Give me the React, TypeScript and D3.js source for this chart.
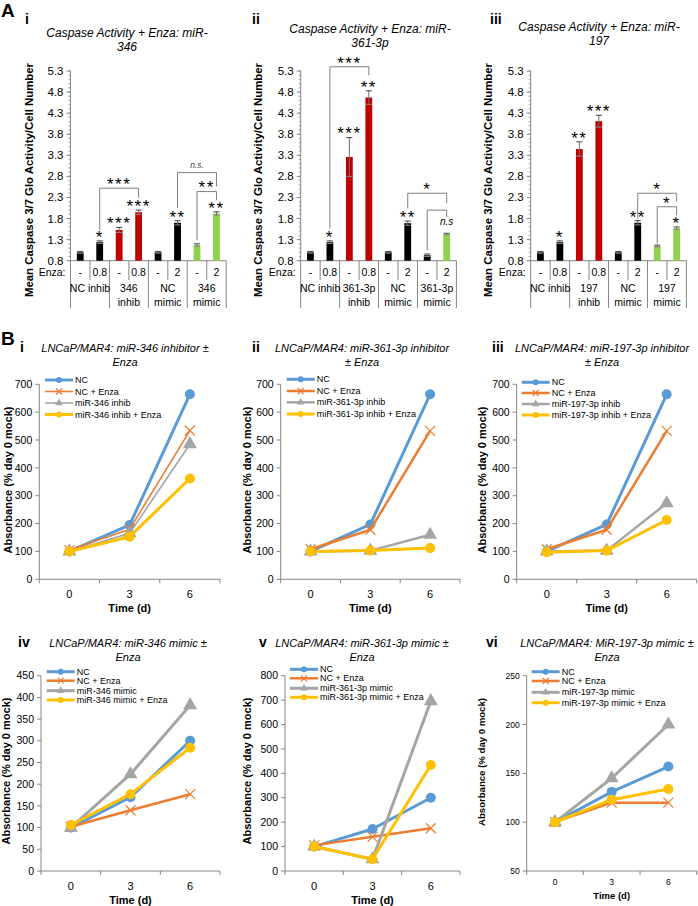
import React from 'react';
import * as d3 from 'd3';

const FONT = '"Liberation Sans", Arial, sans-serif';

// ---------- Panel A data ----------
const enzaLabels = ['-', '0.8', '-', '0.8', '-', '2', '-', '2'];
const caspaseTicks = [0.8, 1.3, 1.8, 2.3, 2.8, 3.3, 3.8, 4.3, 4.8, 5.3];

const groupsAi = [['NC inhib'], ['346', 'inhib'], ['NC', 'mimic'], ['346', 'mimic']];
const groupsAii = [['NC inhib'], ['361-3p', 'inhib'], ['NC', 'mimic'], ['361-3p', 'mimic']];
const groupsAiii = [['NC inhib'], ['197', 'inhib'], ['NC', 'mimic'], ['197', 'mimic']];

const caspaseAi = [1.0, 1.24, 1.53, 1.95, 1.0, 1.70, 1.17, 1.92];
const caspaseAii = [1.0, 1.24, 3.26, 4.67, 1.0, 1.69, 0.93, 1.43];
const caspaseAiii = [1.0, 1.24, 3.45, 4.11, 1.0, 1.70, 1.15, 1.57];

const errAi = [0.02, 0.03, 0.06, 0.05, 0.02, 0.05, 0.03, 0.04];
const errAii = [0.02, 0.03, 0.46, 0.16, 0.02, 0.05, 0.03, 0.02];
const errAiii = [0.02, 0.03, 0.17, 0.14, 0.02, 0.05, 0.02, 0.03];

const colorsAi = ['k', 'k', 'r', 'r', 'k', 'k', 'g', 'g'];
const colorsAii = ['k', 'k', 'r', 'r', 'k', 'k', 'k', 'g'];
const colorsAiii = ['k', 'k', 'r', 'r', 'k', 'k', 'g', 'g'];

const starsAi = ['', '*', '***', '***', '', '**', '', '**'];
const starsAii = ['', '*', '***', '**', '', '**', '', 'n.s'];
const starsAiii = ['', '*', '**', '***', '', '**', '', '*'];

const bracketsAi = [
  { from: 1, to: 3, top: 2.52, lb: 1.53, rb: 2.29, label: '***' },
  { from: 5, to: 7, top: 2.89, lb: 2.05, rb: 2.56, label: 'n.s.' },
  { from: 6, to: 7, top: 2.44, lb: 1.29, rb: 2.24, label: '**' },
];
const bracketsAii = [
  { from: 1, to: 3, top: 5.40, lb: 1.57, rb: 5.20, label: '***' },
  { from: 5, to: 7, top: 2.40, lb: 2.04, rb: 2.16, label: '*' },
  { from: 6, to: 7, top: 2.0, lb: 1.05, rb: 1.84, label: '' },
];
const bracketsAiii = [
  { from: 5, to: 7, top: 2.40, lb: 1.80, rb: 2.20, label: '*' },
  { from: 6, to: 7, top: 2.08, lb: 1.21, rb: 1.88, label: '*' },
];

// ---------- Panel B data ----------
const days = ['0', '3', '6'];
const seriesColors = ['#5B9BD5', '#ED7D31', '#A5A5A5', '#FFC000'];
const seriesMarkers = ['circle', 'x', 'triangle', 'circle'];

const legendBi = ['NC', 'NC + Enza', 'miR-346 inhib', 'miR-346 inhib + Enza'];
const legendBii = ['NC', 'NC + Enza', 'miR-361-3p inhib', 'miR-361-3p inhib + Enza'];
const legendBiii = ['NC', 'NC + Enza', 'miR-197-3p inhib', 'miR-197-3p inhib + Enza'];
const legendBiv = ['NC', 'NC + Enza', 'miR-346 mimic', 'miR-346 mimic + Enza'];
const legendBv = ['NC', 'NC + Enza', 'miR-361-3p mimic', 'miR-361-3p mimic + Enza'];
const legendBvi = ['NC', 'NC + Enza', 'miR-197-3p mimic', 'miR-197-3p mimic + Enza'];

const bi_NC = [100, 195, 664];
const bi_NCE = [105, 180, 534];
const bi_miR = [100, 165, 485];
const bi_miRE = [100, 153, 362];

const bii_NC = [100, 197, 664];
const bii_NCE = [108, 178, 533];
const bii_miR = [100, 103, 160];
const bii_miRE = [100, 103, 112];

const biii_NC = [100, 197, 664];
const biii_NCE = [108, 178, 533];
const biii_miR = [100, 103, 273];
const biii_miRE = [97, 103, 213];

const biv_NC = [100, 170, 300];
const biv_NCE = [102, 140, 177];
const biv_miR = [100, 223, 382];
const biv_miRE = [106, 177, 284];

const bv_NC = [100, 172, 300];
const bv_NCE = [105, 140, 175];
const bv_miR = [100, 48, 696];
const bv_miRE = [100, 48, 434];

const bvi_NC = [100, 131, 157];
const bvi_NCE = [100, 120, 120];
const bvi_miR = [100, 145, 200];
const bvi_miRE = [100, 123, 134];

const ticksB1 = [0, 100, 200, 300, 400, 500, 600, 700];
const ticksBiv = [0, 50, 100, 150, 200, 250, 300, 350, 400, 450];
const ticksBv = [0, 100, 200, 300, 400, 500, 600, 700, 800];
const ticksBvi = [50, 100, 150, 200, 250];

const BAR_COLORS: Record<string, string> = { k: '#000000', r: '#C00000', g: '#92D050' };
const AXIS = '#868686';
const STAR_FS = 17;

function Stars({ x, cy, text }: any) {
  return (
    <text x={x} y={cy + STAR_FS * 0.55} textAnchor="middle" fontFamily={FONT} fontSize={STAR_FS} letterSpacing={1.5}>{text}</text>
  );
}

function BarPanel(p: any) {
  const x0 = p.x0;
  const w = 155.7;
  const y = d3.scaleLinear().domain([0.8, 5.3]).range([260.7, 71]);
  const x = d3.scaleBand<number>().domain(d3.range(8)).range([x0, x0 + w]);
  const bw = x.bandwidth();
  const barW = bw * 0.35;
  const cx = (i: number) => (x(i) as number) + bw / 2;
  const minor = d3.range(46).map((i) => 0.8 + i * 0.1);
  const base = y(0.8);
  const fmt = d3.format('.1f');
  return (
    <g>
      <text x={p.numX} y={24} fontFamily={FONT} fontWeight="bold" fontSize={14}>{p.numeral}</text>
      {p.title.map((t: string, i: number) => (
        <text key={i} x={p.titleX} y={p.titleY + i * 14} textAnchor="middle" fontFamily={FONT} fontStyle="italic" fontSize={12}>{t}</text>
      ))}
      <text transform={`translate(${p.ylabX},180) rotate(-90)`} textAnchor="middle" dominantBaseline="central" fontFamily={FONT} fontWeight="bold" fontSize={11} textLength={234} lengthAdjust="spacingAndGlyphs">Mean Caspase 3/7 Glo Activity/Cell Number</text>
      {/* y axis */}
      <line x1={x0} x2={x0} y1={y(5.3)} y2={308} stroke={AXIS} />
      {minor.map((v, i) => (
        <line key={'m' + i} x1={x0 - 2} x2={x0} y1={y(v)} y2={y(v)} stroke={AXIS} strokeWidth={0.8} />
      ))}
      {caspaseTicks.map((v) => (
        <g key={v}>
          <line x1={x0 - 4} x2={x0} y1={y(v)} y2={y(v)} stroke={AXIS} />
          <text x={x0 - 7} y={y(v)} dy="0.35em" textAnchor="end" fontFamily={FONT} fontSize={11.5}>{fmt(v)}</text>
        </g>
      ))}
      <line x1={x0} x2={x0 + w} y1={base} y2={base} stroke={AXIS} />
      {/* category table */}
      <text x={x0 - 5} y={276} textAnchor="end" fontFamily={FONT} fontSize={10.5}>Enza:</text>
      {enzaLabels.map((t, i) => (
        <text key={'e' + i} x={cx(i)} y={276} textAnchor="middle" fontFamily={FONT} fontSize={10.5}>{t}</text>
      ))}
      {d3.range(1, 9).map((i) => {
        const xx = x0 + i * bw;
        const long = i % 2 === 0;
        return <line key={'d' + i} x1={xx} x2={xx} y1={base} y2={long ? 308 : 280} stroke={AXIS} />;
      })}
      {p.groups.map((lines: string[], gi: number) => (
        <g key={'g' + gi}>
          {lines.map((t, li) => (
            <text key={li} x={x0 + (gi * 2 + 1) * bw} y={292 + li * 13.5} textAnchor="middle" fontFamily={FONT} fontSize={10.5}>{t}</text>
          ))}
        </g>
      ))}
      {/* bars */}
      {p.values.map((v: number, i: number) => {
        const e = p.errs[i];
        const c = cx(i);
        return (
          <g key={'b' + i}>
            <rect x={c - barW / 2} y={y(v)} width={barW} height={base - y(v)} fill={BAR_COLORS[p.colors[i]]} />
            <line x1={c} x2={c} y1={y(v - e)} y2={y(v + e)} stroke="#6d6d6d" strokeWidth={1} />
            <line x1={c - 3} x2={c + 3} y1={y(v + e)} y2={y(v + e)} stroke="#404040" strokeWidth={1} />
            <line x1={c - 3} x2={c + 3} y1={y(v - e)} y2={y(v - e)} stroke="#8a8a8a" strokeWidth={1} />
            {p.stars[i] === 'n.s' ? (
              <text x={c} y={y(v + e) - 8} textAnchor="middle" fontFamily={FONT} fontStyle="italic" fontSize={10}>n.s</text>
            ) : p.stars[i] ? (
              <Stars x={c} cy={y(v + e) - 7.5} text={p.stars[i]} />
            ) : null}
          </g>
        );
      })}
      {p.brackets.map((b: any, i: number) => {
        const xl = cx(b.from);
        const xr = cx(b.to);
        const yt = y(b.top);
        return (
          <g key={'br' + i}>
            <path d={`M${xl},${y(b.lb)}V${yt}H${xr}V${y(b.rb)}`} fill="none" stroke="#7f7f7f" strokeWidth={1} />
            {b.label === 'n.s.' ? (
              <text x={(xl + xr) / 2} y={yt - 5} textAnchor="middle" fontFamily={FONT} fontStyle="italic" fontSize={8.5} fill="#404040">n.s.</text>
            ) : b.label ? (
              <Stars x={(xl + xr) / 2} cy={yt - 7.5} text={b.label} />
            ) : null}
          </g>
        );
      })}
    </g>
  );
}

function Marker({ type, x, y, color, s }: any) {
  if (type === 'circle') return <circle cx={x} cy={y} r={s} fill={color} />;
  if (type === 'x')
    return (
      <path d={`M${x - s},${y - s}L${x + s},${y + s}M${x - s},${y + s}L${x + s},${y - s}`} stroke={color} strokeWidth={1.2} fill="none" />
    );
  const sym = d3.symbol(d3.symbolTriangle, s * s * 2.8)();
  return <path d={sym as string} transform={`translate(${x},${y})`} fill={color} />;
}

function LinePanel(p: any) {
  const x = d3.scaleBand().domain(days).range([p.x0, p.x1]);
  const y = d3.scaleLinear().domain(p.domain).range([p.yBottom, p.yTop]);
  const cx = (d: string) => (x(d) as number) + x.bandwidth() / 2;
  const line = d3
    .line<number>()
    .x((_, i) => cx(days[i]))
    .y((v) => y(v));
  const tf = p.tickFont || 10.5;
  return (
    <g>
      <text x={p.numX} y={p.numY} fontFamily={FONT} fontWeight="bold" fontSize={14}>{p.numeral}</text>
      {p.title.map((t: string, i: number) => (
        <text key={i} x={p.titleX} y={p.titleY + i * 14} textAnchor="middle" fontFamily={FONT} fontStyle="italic" fontSize={11}>{t}</text>
      ))}
      <text transform={`translate(${p.ylabX},${p.ylabY}) rotate(-90)`} textAnchor="middle" dominantBaseline="central" fontFamily={FONT} fontWeight="bold" fontSize={p.ylabFont || 10.5} textLength={p.ylabLen || 147} lengthAdjust="spacingAndGlyphs">Absorbance (% day 0 mock)</text>
      <line x1={p.x0} x2={p.x0} y1={p.yTop} y2={p.yBottom} stroke={AXIS} />
      <line x1={p.x0} x2={p.x1} y1={p.yBottom} y2={p.yBottom} stroke={AXIS} />
      {p.ticks.map((v: number) => (
        <g key={v}>
          <line x1={p.x0 - 4} x2={p.x0} y1={y(v)} y2={y(v)} stroke={AXIS} />
          <text x={p.x0 - 7} y={y(v)} dy="0.35em" textAnchor="end" fontFamily={FONT} fontSize={tf}>{v}</text>
        </g>
      ))}
      {d3.range(4).map((i) => {
        const xx = p.x0 + i * x.bandwidth();
        return <line key={'t' + i} x1={xx} x2={xx} y1={p.yBottom} y2={p.yBottom + 4} stroke={AXIS} />;
      })}
      {days.map((d) => (
        <text key={d} x={cx(d)} y={p.xlabY} textAnchor="middle" fontFamily={FONT} fontSize={p.xFont || 11}>{d}</text>
      ))}
      <text x={(p.x0 + p.x1) / 2} y={p.timeY} textAnchor="middle" fontFamily={FONT} fontWeight="bold" fontSize={p.timeFont || 11}>Time (d)</text>
      {p.series.map((s: number[], si: number) => (
        <g key={'s' + si}>
          <path d={line(s) as string} fill="none" stroke={seriesColors[si]} strokeWidth={p.widths[si]} strokeLinejoin="round" />
          {s.map((v, i) => (
            <Marker key={i} type={seriesMarkers[si]} x={cx(days[i])} y={y(v)} color={seriesColors[si]} s={si === 1 ? 5 : si === 2 ? 5.5 : 5} />
          ))}
        </g>
      ))}
      {p.legend.map((t: string, i: number) => {
        const ly = p.legY[i];
        return (
          <g key={'l' + i}>
            <line x1={p.legX} x2={p.legX + 28} y1={ly} y2={ly} stroke={seriesColors[i]} strokeWidth={p.widths[i]} />
            <Marker type={seriesMarkers[i]} x={p.legX + 14} y={ly} color={seriesColors[i]} s={3} />
            <text x={p.legX + 30} y={ly} dy="0.35em" fontFamily={FONT} fontSize={p.legFont || 9}>{t}</text>
          </g>
        );
      })}
    </g>
  );
}

export default function App() {
  return (
    <svg width={698} height={906} style={{ position: 'absolute', left: 0, top: 0, background: '#fff' }}>
      <rect width={698} height={906} fill="#fff" />
      <text x={1} y={17} fontFamily={FONT} fontWeight="bold" fontSize={19}>A</text>
      <text x={1} y={345} fontFamily={FONT} fontWeight="bold" fontSize={19}>B</text>

      <BarPanel x0={70.5} numeral="i" numX={25} title={['Caspase Activity + Enza: miR-', '346']} titleX={127} titleY={37} ylabX={29}
        groups={groupsAi} values={caspaseAi} errs={errAi} colors={colorsAi} stars={starsAi} brackets={bracketsAi} />
      <BarPanel x0={300.7} numeral="ii" numX={252} title={['Caspase Activity + Enza: miR-', '361-3p']} titleX={370} titleY={33} ylabX={258}
        groups={groupsAii} values={caspaseAii} errs={errAii} colors={colorsAii} stars={starsAii} brackets={bracketsAii} />
      <BarPanel x0={530.7} numeral="iii" numX={490} title={['Caspase Activity + Enza: miR-', '197']} titleX={599} titleY={31} ylabX={488}
        groups={groupsAiii} values={caspaseAiii} errs={errAiii} colors={colorsAiii} stars={starsAiii} brackets={bracketsAiii} />

      <LinePanel x0={39.3} x1={220} yTop={384.3} yBottom={579.3} domain={[0, 700]} ticks={ticksB1}
        numeral="i" numX={20} numY={352} title={['LNCaP/MAR4: miR-346 inhibitor ±', 'Enza']} titleX={125} titleY={352}
        ylabX={8} ylabY={480} xlabY={598} timeY={612}
        series={[bi_NC, bi_NCE, bi_miR, bi_miRE]} widths={[3, 1.6, 1.6, 3]}
        legend={legendBi} legX={45} legY={[380, 391.5, 403, 414.5]} />
      <LinePanel x0={280.7} x1={460} yTop={384.3} yBottom={579.3} domain={[0, 700]} ticks={ticksB1}
        numeral="ii" numX={252} numY={352} title={['LNCaP/MAR4: miR-361-3p inhibitor', '± Enza']} titleX={362} titleY={352}
        ylabX={246.7} ylabY={480} xlabY={598} timeY={612}
        series={[bii_NC, bii_NCE, bii_miR, bii_miRE]} widths={[3, 2.5, 2.5, 3]}
        legend={legendBii} legX={286.7} legY={[379.3, 391, 402.3, 414]} />
      <LinePanel x0={516.7} x1={696.7} yTop={384.3} yBottom={579.3} domain={[0, 700]} ticks={ticksB1}
        numeral="iii" numX={492} numY={352} title={['LNCaP/MAR4: miR-197-3p inhibitor', '± Enza']} titleX={602} titleY={352}
        ylabX={481.7} ylabY={480} xlabY={598} timeY={612}
        series={[biii_NC, biii_NCE, biii_miR, biii_miRE]} widths={[3, 2.5, 2.5, 3]}
        legend={legendBiii} legX={521.7} legY={[382.3, 393, 404, 415]} />

      <LinePanel x0={41} x1={220} yTop={675.7} yBottom={871} domain={[0, 450]} ticks={ticksBiv}
        numeral="iv" numX={18} numY={647} title={['LNCaP/MAR4: miR-346 mimic ±', 'Enza']} titleX={128} titleY={647}
        ylabX={6} ylabY={771} xlabY={890} timeY={904}
        series={[biv_NC, biv_NCE, biv_miR, biv_miRE]} widths={[3, 2.5, 3, 3]}
        legend={legendBiv} legX={46.7} legY={[671.7, 680.7, 690.7, 700]} />
      <LinePanel x0={285} x1={460} yTop={675.7} yBottom={871} domain={[0, 800]} ticks={ticksBv}
        numeral="v" numX={259} numY={647} title={['LNCaP/MAR4: miR-361-3p mimic ±', 'Enza']} titleX={362} titleY={647}
        ylabX={246.7} ylabY={771} xlabY={890} timeY={904}
        series={[bv_NC, bv_NCE, bv_miR, bv_miRE]} widths={[3, 2.5, 3, 3]}
        legend={legendBv} legX={290} legY={[669.3, 678.3, 688.3, 697.3]} />
      <LinePanel x0={526.7} x1={696.7} yTop={675.7} yBottom={871} domain={[50, 250]} ticks={ticksBvi}
        numeral="vi" numX={486} numY={647} title={['LNCaP/MAR4: MiR-197-3p mimic ±', 'Enza']} titleX={607} titleY={647}
        ylabX={481.7} ylabY={762} xlabY={885} timeY={899} tickFont={8.5} xFont={8.5} timeFont={9.5} ylabFont={9} ylabLen={128}
        series={[bvi_NC, bvi_NCE, bvi_miR, bvi_miRE]} widths={[3, 2.5, 3, 3]}
        legend={legendBvi} legX={531.7} legY={[671.7, 681, 692.3, 702.7]} />
    </svg>
  );
}
